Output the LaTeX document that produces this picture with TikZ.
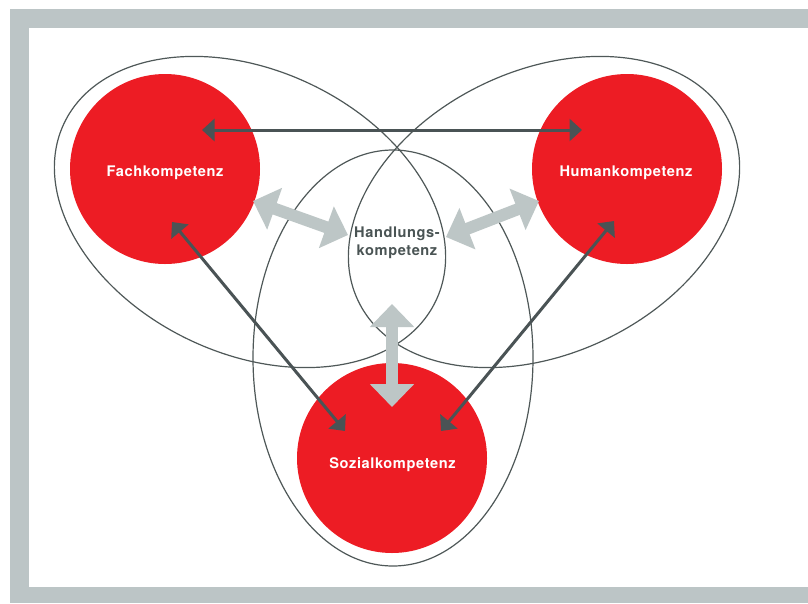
\documentclass[tikz,border=0pt]{standalone}
\usepackage{fontspec}
\setmainfont{TeX Gyre Heros}
\newfontfamily\lblfont[LetterSpace=4]{TeX Gyre Heros}
\usetikzlibrary{arrows.meta}
\definecolor{framegray}{HTML}{BCC5C6}
\definecolor{lightarrow}{HTML}{BDC6C6}
\definecolor{darkarrow}{HTML}{4A5355}
\definecolor{linegray}{HTML}{4F5858}
\definecolor{compred}{HTML}{ED1C24}
\definecolor{hktext}{HTML}{4A5454}
\tikzset{
  ell/.style={draw=linegray, line width=1.2pt},
  redcircle/.style={circle, fill=compred, inner sep=0pt, minimum size=190pt},
  whitelbl/.style={text=white, font=\lblfont\bfseries\fontsize{14.6}{18}\selectfont, anchor=base, inner sep=0pt},
  hklbl/.style={text=hktext, font=\lblfont\bfseries\fontsize{14.6}{18}\selectfont, anchor=base, inner sep=0pt},
  garrow/.style={draw=lightarrow, line width=12pt,
    {Triangle[length=23pt,width=43pt]}-{Triangle[length=23pt,width=43pt]}},
  darrow/.style={draw=darkarrow, line width=3pt,
    {Triangle[length=12.5pt,width=22pt]}-{Triangle[length=12.5pt,width=22pt]}}
}
\begin{document}
\begin{tikzpicture}[x=1pt,y=-1pt]
\useasboundingbox (0,0) rectangle (808,603);
% frame
\fill[framegray] (10,9) rectangle (808,603);
\fill[white] (29,28) rectangle (808,587);
% ellipses
\draw[ell, rotate around={-25.6:(250,212)}] (250,212) ellipse [x radius=206pt, y radius=141.5pt];
\draw[ell, rotate around={25.6:(544,212)}] (544,212) ellipse [x radius=206pt, y radius=141.5pt];
\draw[ell] (393,358) ellipse [x radius=140pt, y radius=208pt];
% red circles
\node[redcircle] (fach) at (165,169) {};
\node[redcircle] (human) at (627,169) {};
\node[redcircle] (sozial) at (392,458) {};
% labels
\node[whitelbl] (fachlbl) at (165,176) {Fachkompetenz};
\node[whitelbl] (humanlbl) at (626,176) {Humankompetenz};
\node[whitelbl] (soziallbl) at (392.5,468) {Sozialkompetenz};
\node[hklbl] (hk1) at (397,237) {Handlungs-};
\node[hklbl] (hk2) at (397,255) {kompetenz};
% arrow end points
\coordinate (hA) at (202,130);
\coordinate (hB) at (582,130);
\coordinate (fsA) at (172,222);
\coordinate (fsB) at (345,431);
\coordinate (hsA) at (614,221);
\coordinate (hsB) at (441,431);
\coordinate (glA) at (253,201);
\coordinate (glB) at (348,235);
\coordinate (grA) at (446,237);
\coordinate (grB) at (539,201);
\coordinate (gvA) at (392,304);
\coordinate (gvB) at (392,407);
% light arrows
\draw[garrow] (glA) -- (glB);
\draw[garrow] (grA) -- (grB);
\draw[garrow] (gvA) -- (gvB);
% dark arrows
\draw[darrow] (hA) -- (hB);
\draw[darrow] (fsA) -- (fsB);
\draw[darrow] (hsA) -- (hsB);
\end{tikzpicture}
\end{document}
